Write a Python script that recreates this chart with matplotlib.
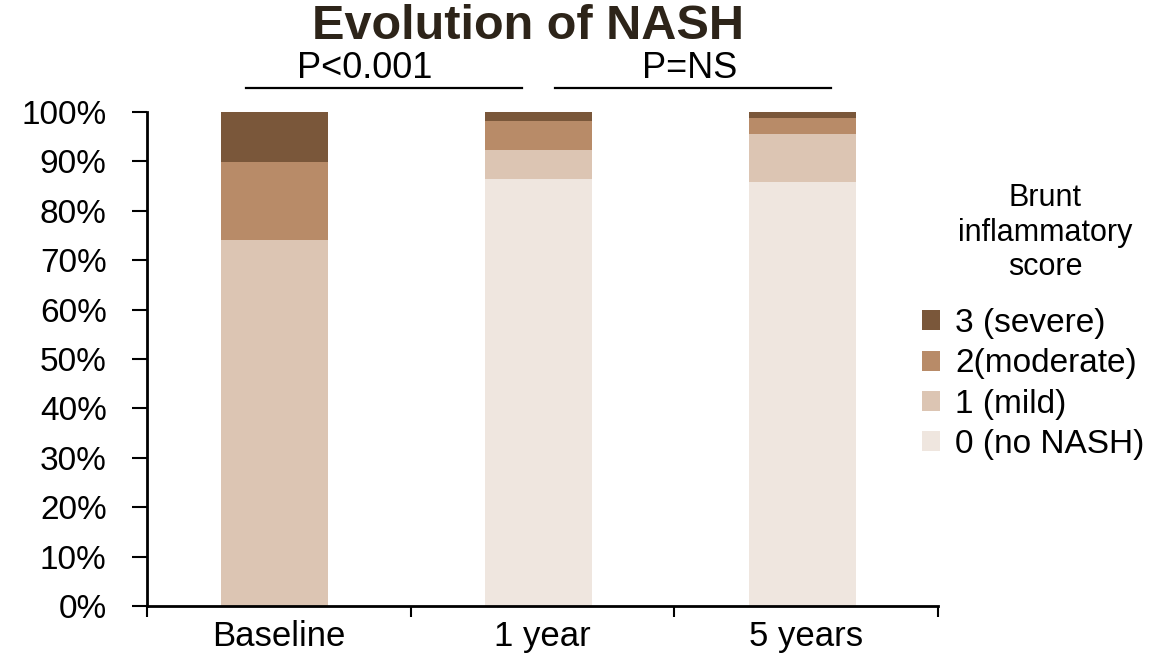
import matplotlib
matplotlib.use("Agg")
import matplotlib.pyplot as plt
import numpy as np

plt.rcParams['font.family'] = ['Liberation Sans', 'DejaVu Sans']

categories = ["Baseline", "1 year", "5 years"]
score0 = [0.0, 86.4, 85.8]
score1 = [74.1, 5.9, 9.7]
score2 = [15.8, 5.9, 3.3]
score3 = [10.1, 1.8, 1.2]
series = [score0, score1, score2, score3]
labels = ["0 (no NASH)", "1 (mild)", "2(moderate)", "3 (severe)"]
colors = ["#efe6df", "#dcc5b3", "#b88b68", "#7a573a"]
ytick_vals = list(range(0, 101, 10))
ytick_labels = [f"{v}%" for v in ytick_vals]
pvalues = ["P<0.001", "P=NS"]

W, H = 1171, 654
fig = plt.figure(figsize=(W / 100, H / 100), dpi=100)
ax = fig.add_axes([147 / W, 1 - 606 / H, (938 - 147) / W, (606 - 112) / H])

x = np.arange(len(categories))
bottom = np.zeros(len(categories))
handles = []
for vals, lab, col in zip(series, labels, colors):
    b = ax.bar(x - 0.015, vals, width=0.405, bottom=bottom, color=col, label=lab, edgecolor='none')
    handles.append(b)
    bottom += np.array(vals)

ax.set_xlim(-0.5, 2.5)
ax.set_ylim(0, 100)
for s in ['top', 'right']:
    ax.spines[s].set_visible(False)
for s in ['left', 'bottom']:
    ax.spines[s].set_linewidth(2)
    ax.spines[s].set_color('black')

ax.set_yticks(ytick_vals)
ax.set_yticklabels(ytick_labels, fontsize=24)
ax.tick_params(axis='y', length=11, width=1.5, direction='out', pad=18)

ax.set_xticks(x)
ax.set_xticklabels(categories, fontsize=25)
ax.tick_params(axis='x', which='major', length=0, pad=10)
ax.set_xticks([-0.5, 0.5, 1.5, 2.5], minor=True)
ax.tick_params(axis='x', which='minor', length=8, width=1.5, direction='out')

# significance bars
ax.plot([-0.125, 0.924], [104.9, 104.9], color='black', lw=1.6, clip_on=False)
ax.plot([1.049, 2.095], [104.9, 104.9], color='black', lw=1.6, clip_on=False)
ax.text(0.326, 105.3, pvalues[0], ha='center', va='bottom', fontsize=26, clip_on=False)
ax.text(1.557, 105.3, pvalues[1], ha='center', va='bottom', fontsize=26, clip_on=False)

fig.text(528 / W, 1 - 4 / H, "Evolution of NASH", ha='center', va='top',
         fontsize=35, fontweight='bold', color='#2d2419')

fig.text(1045 / W, 1 - 183 / H, "Brunt\ninflammatory\nscore", ha='center', va='top',
         fontsize=22, linespacing=1.2)

leg = fig.legend(handles[::-1], labels[::-1], loc='upper left',
                 bbox_to_anchor=(922 / W, 1 - 308 / H), frameon=False,
                 fontsize=24, borderpad=0, borderaxespad=0,
                 handlelength=0.55, handleheight=0.55, handletextpad=0.45,
                 labelspacing=0.28)

fig.savefig("out.png", dpi=100)
